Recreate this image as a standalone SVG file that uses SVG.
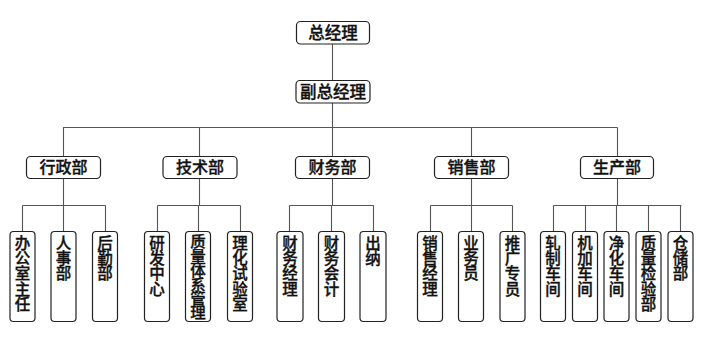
<svg xmlns="http://www.w3.org/2000/svg" width="704" height="350" viewBox="0 0 704 350">
<style>
.box{fill:#fff;stroke:#222;stroke-width:1.2}
.ln{fill:none;stroke:#555;stroke-width:1.1}
text{font-family:"Noto Sans CJK SC","Noto Sans CJK JP",sans-serif;fill:#111;text-anchor:middle;font-weight:500;stroke:#111;stroke-width:0.35}
.t1{font-size:16.5px}
.t2{font-size:16px}
.t3{font-size:15.5px}
</style>
<rect width="704" height="350" fill="#fff"/>
<g id="connectors">
<path class="ln" d="M332.5 44V80M332.5 103V127.5M63 127.5H617.5M63.5 127.5V156M199.5 127.5V156M332.5 127.5V156M471.5 127.5V156M617.5 127.5V156"/>
<path class="ln" d="M63.5 178V205.5M22.5 205.5H105.5M22.5 205.5V231M63.5 205.5V231M105.5 205.5V231"/>
<path class="ln" d="M199.5 178V205.5M157.5 205.5H240.5M157.5 205.5V231M198.5 205.5V231M240.5 205.5V231"/>
<path class="ln" d="M332.5 178V205.5M289.5 205.5H373.5M289.5 205.5V231M331.5 205.5V231M373.5 205.5V231"/>
<path class="ln" d="M471.5 178V205.5M430.5 205.5H512.5M430.5 205.5V231M471.5 205.5V231M512.5 205.5V231"/>
<path class="ln" d="M617.5 178V205.5M553.5 205.5H681.5M553.5 205.5V231M585.5 205.5V231M616.5 205.5V231M648.5 205.5V231M680.5 205.5V231"/>
</g>
<g id="n-zjl"><rect class="box" x="296.5" y="21.5" width="73" height="22.5" rx="4"/><text class="t1" x="333" y="38.5">总经理</text></g>
<g id="n-fzjl"><rect class="box" x="296" y="80.5" width="74" height="22.5" rx="4"/><text class="t1" x="333" y="97.5">副总经理</text></g>
<g id="n-xzb"><rect class="box" x="26.5" y="156.5" width="74" height="22" rx="4"/><text class="t2" x="63.5" y="173">行政部</text></g>
<g id="n-jsb"><rect class="box" x="163" y="156.5" width="74" height="22" rx="4"/><text class="t2" x="200" y="173">技术部</text></g>
<g id="n-cwb"><rect class="box" x="295.5" y="156.5" width="74" height="22" rx="4"/><text class="t2" x="332.5" y="173">财务部</text></g>
<g id="n-xsb"><rect class="box" x="434.5" y="156.5" width="74" height="22" rx="4"/><text class="t2" x="471.5" y="173">销售部</text></g>
<g id="n-scb"><rect class="box" x="580.5" y="156.5" width="73" height="22" rx="4"/><text class="t2" x="617" y="173">生产部</text></g>

<g id="n-bgszr"><rect class="box" x="10" y="231.5" width="25" height="90" rx="3.5"/><text class="t3" x="22.5" y="248.5"><tspan x="22.5">办</tspan><tspan x="22.5" dy="15.4">公</tspan><tspan x="22.5" dy="15.4">室</tspan><tspan x="22.5" dy="15.4">主</tspan><tspan x="22.5" dy="15.4">任</tspan></text></g>
<g id="n-rsb"><rect class="box" x="51" y="231.5" width="25" height="90" rx="3.5"/><text class="t3" x="63.5" y="248.5"><tspan x="63.5">人</tspan><tspan x="63.5" dy="15.4">事</tspan><tspan x="63.5" dy="15.4">部</tspan></text></g>
<g id="n-hqb"><rect class="box" x="92.5" y="231.5" width="25" height="90" rx="3.5"/><text class="t3" x="105" y="248.5"><tspan x="105">后</tspan><tspan x="105" dy="15.4">勤</tspan><tspan x="105" dy="15.4">部</tspan></text></g>

<g id="n-yfzx"><rect class="box" x="144.5" y="231.5" width="25" height="90" rx="3.5"/><text class="t3" x="157" y="248.5"><tspan x="157">研</tspan><tspan x="157" dy="15.4">发</tspan><tspan x="157" dy="15.4">中</tspan><tspan x="157" dy="15.4">心</tspan></text></g>
<g id="n-zltxgl"><rect class="box" x="185.5" y="231.5" width="25" height="90" rx="3.5"/><text class="t3" x="198" y="248.5" transform="translate(0,235) scale(1,0.92) translate(0,-235)"><tspan x="198">质</tspan><tspan x="198" dy="15.4">量</tspan><tspan x="198" dy="15.4">体</tspan><tspan x="198" dy="15.4">系</tspan><tspan x="198" dy="15.4">管</tspan><tspan x="198" dy="15.4">理</tspan></text></g>
<g id="n-lhsys"><rect class="box" x="227.5" y="231.5" width="25" height="90" rx="3.5"/><text class="t3" x="240" y="248.5"><tspan x="240">理</tspan><tspan x="240" dy="15.4">化</tspan><tspan x="240" dy="15.4">试</tspan><tspan x="240" dy="15.4">验</tspan><tspan x="240" dy="15.4">室</tspan></text></g>

<g id="n-cwjl"><rect class="box" x="277" y="231.5" width="26" height="90" rx="3.5"/><text class="t3" x="290" y="248.5"><tspan x="290">财</tspan><tspan x="290" dy="15.4">务</tspan><tspan x="290" dy="15.4">经</tspan><tspan x="290" dy="15.4">理</tspan></text></g>
<g id="n-cwkj"><rect class="box" x="318.5" y="231.5" width="26" height="90" rx="3.5"/><text class="t3" x="331.5" y="248.5"><tspan x="331.5">财</tspan><tspan x="331.5" dy="15.4">务</tspan><tspan x="331.5" dy="15.4">会</tspan><tspan x="331.5" dy="15.4">计</tspan></text></g>
<g id="n-cn"><rect class="box" x="360" y="231.5" width="26" height="90" rx="3.5"/><text class="t3" x="373" y="248.5"><tspan x="373">出</tspan><tspan x="373" dy="15.4">纳</tspan></text></g>

<g id="n-xsjl"><rect class="box" x="417.5" y="231.5" width="25" height="90" rx="3.5"/><text class="t3" x="430" y="248.5"><tspan x="430">销</tspan><tspan x="430" dy="15.4">售</tspan><tspan x="430" dy="15.4">经</tspan><tspan x="430" dy="15.4">理</tspan></text></g>
<g id="n-ywy"><rect class="box" x="458.5" y="231.5" width="25" height="90" rx="3.5"/><text class="t3" x="471" y="248.5"><tspan x="471">业</tspan><tspan x="471" dy="15.4">务</tspan><tspan x="471" dy="15.4">员</tspan></text></g>
<g id="n-tgzy"><rect class="box" x="500" y="231.5" width="25" height="90" rx="3.5"/><text class="t3" x="512.5" y="248.5"><tspan x="512.5">推</tspan><tspan x="512.5" dy="15.4">广</tspan><tspan x="512.5" dy="15.4">专</tspan><tspan x="512.5" dy="15.4">员</tspan></text></g>

<g id="n-zzcj"><rect class="box" x="540.5" y="231.5" width="25" height="90" rx="3.5"/><text class="t3" x="553" y="248.5"><tspan x="553">轧</tspan><tspan x="553" dy="15.4">制</tspan><tspan x="553" dy="15.4">车</tspan><tspan x="553" dy="15.4">间</tspan></text></g>
<g id="n-jjcj"><rect class="box" x="572.5" y="231.5" width="25" height="90" rx="3.5"/><text class="t3" x="585" y="248.5"><tspan x="585">机</tspan><tspan x="585" dy="15.4">加</tspan><tspan x="585" dy="15.4">车</tspan><tspan x="585" dy="15.4">间</tspan></text></g>
<g id="n-jhcj"><rect class="box" x="604" y="231.5" width="25" height="90" rx="3.5"/><text class="t3" x="616.5" y="248.5"><tspan x="616.5">净</tspan><tspan x="616.5" dy="15.4">化</tspan><tspan x="616.5" dy="15.4">车</tspan><tspan x="616.5" dy="15.4">间</tspan></text></g>
<g id="n-zljyb"><rect class="box" x="636" y="231.5" width="25" height="90" rx="3.5"/><text class="t3" x="648.5" y="248.5"><tspan x="648.5">质</tspan><tspan x="648.5" dy="15.4">量</tspan><tspan x="648.5" dy="15.4">检</tspan><tspan x="648.5" dy="15.4">验</tspan><tspan x="648.5" dy="15.4">部</tspan></text></g>
<g id="n-ccb"><rect class="box" x="668" y="231.5" width="25" height="90" rx="3.5"/><text class="t3" x="680.5" y="248.5"><tspan x="680.5">仓</tspan><tspan x="680.5" dy="15.4">储</tspan><tspan x="680.5" dy="15.4">部</tspan></text></g>
</svg>
